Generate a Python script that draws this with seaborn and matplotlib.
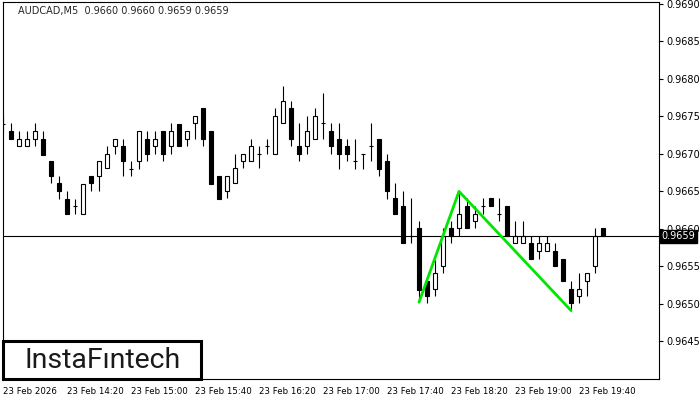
import numpy as np
import pandas as pd
import matplotlib
matplotlib.use('Agg')
import matplotlib.pyplot as plt
import matplotlib.transforms as mtransforms
from matplotlib.patches import Rectangle
import seaborn as sns

# AUDCAD M5, 23 Feb 2026 13:40 .. 19:55 (76 bars)
opens = [0.96740, 0.96730, 0.96710, 0.96710, 0.96720, 0.96720, 0.96690, 0.96661, 0.96640, 0.96630,
         0.96620, 0.96670, 0.96670, 0.96681, 0.96710, 0.96710, 0.96680, 0.96690, 0.96720, 0.96710,
         0.96730, 0.96710, 0.96740, 0.96720, 0.96741, 0.96761, 0.96730, 0.96670, 0.96650, 0.96661,
         0.96690, 0.96690, 0.96700, 0.96710, 0.96700, 0.96741, 0.96761, 0.96711, 0.96711, 0.96720,
         0.96741, 0.96730, 0.96720, 0.96710, 0.96690, 0.96700, 0.96710, 0.96720, 0.96691, 0.96641,
         0.96631, 0.96591, 0.96601, 0.96530, 0.96520, 0.96551, 0.96601, 0.96601, 0.96631, 0.96611,
         0.96630, 0.96641, 0.96620, 0.96631, 0.96581, 0.96581, 0.96581, 0.96570, 0.96570, 0.96570,
         0.96560, 0.96520, 0.96510, 0.96530, 0.96551, 0.96601]
highs = [0.96752, 0.96741, 0.96730, 0.96730, 0.96741, 0.96730, 0.96690, 0.96671, 0.96651, 0.96640,
         0.96660, 0.96670, 0.96691, 0.96711, 0.96720, 0.96720, 0.96690, 0.96730, 0.96730, 0.96730,
         0.96730, 0.96741, 0.96740, 0.96730, 0.96751, 0.96761, 0.96730, 0.96670, 0.96670, 0.96700,
         0.96700, 0.96720, 0.96711, 0.96720, 0.96761, 0.96791, 0.96771, 0.96741, 0.96751, 0.96761,
         0.96781, 0.96741, 0.96741, 0.96720, 0.96720, 0.96700, 0.96741, 0.96720, 0.96700, 0.96661,
         0.96651, 0.96641, 0.96611, 0.96530, 0.96559, 0.96601, 0.96611, 0.96650, 0.96641, 0.96631,
         0.96641, 0.96641, 0.96641, 0.96631, 0.96611, 0.96611, 0.96590, 0.96590, 0.96590, 0.96581,
         0.96560, 0.96530, 0.96541, 0.96541, 0.96601, 0.96601]
lows = [0.96730, 0.96720, 0.96710, 0.96710, 0.96710, 0.96699, 0.96661, 0.96640, 0.96620, 0.96620,
        0.96620, 0.96650, 0.96650, 0.96681, 0.96700, 0.96670, 0.96670, 0.96680, 0.96690, 0.96700,
        0.96690, 0.96700, 0.96710, 0.96710, 0.96720, 0.96710, 0.96660, 0.96640, 0.96641, 0.96661,
        0.96681, 0.96690, 0.96681, 0.96700, 0.96700, 0.96741, 0.96710, 0.96690, 0.96700, 0.96720,
        0.96720, 0.96700, 0.96680, 0.96690, 0.96680, 0.96680, 0.96690, 0.96670, 0.96640, 0.96620,
        0.96581, 0.96581, 0.96502, 0.96501, 0.96510, 0.96541, 0.96581, 0.96590, 0.96601, 0.96601,
        0.96620, 0.96630, 0.96611, 0.96590, 0.96581, 0.96581, 0.96560, 0.96560, 0.96570, 0.96551,
        0.96530, 0.96491, 0.96501, 0.96510, 0.96541, 0.96590]
closes = [0.96740, 0.96720, 0.96720, 0.96720, 0.96730, 0.96699, 0.96670, 0.96650, 0.96620, 0.96630,
          0.96660, 0.96661, 0.96691, 0.96700, 0.96720, 0.96690, 0.96680, 0.96730, 0.96700, 0.96720,
          0.96700, 0.96730, 0.96710, 0.96730, 0.96751, 0.96720, 0.96660, 0.96640, 0.96670, 0.96681,
          0.96700, 0.96711, 0.96700, 0.96710, 0.96751, 0.96771, 0.96720, 0.96700, 0.96730, 0.96751,
          0.96741, 0.96710, 0.96700, 0.96700, 0.96690, 0.96700, 0.96710, 0.96680, 0.96650, 0.96620,
          0.96581, 0.96591, 0.96519, 0.96510, 0.96541, 0.96590, 0.96590, 0.96620, 0.96601, 0.96620,
          0.96630, 0.96631, 0.96620, 0.96590, 0.96590, 0.96590, 0.96560, 0.96581, 0.96581, 0.96551,
          0.96530, 0.96501, 0.96520, 0.96541, 0.96590, 0.96590]

time_labels = ['23 Feb 2026', '23 Feb 14:20', '23 Feb 15:00', '23 Feb 15:40', '23 Feb 16:20',
               '23 Feb 17:00', '23 Feb 17:40', '23 Feb 18:20', '23 Feb 19:00', '23 Feb 19:40']
price_ticks = [0.9645, 0.9650, 0.9655, 0.9660, 0.9665, 0.9670, 0.9675, 0.9680, 0.9685, 0.9690]
last_price = 0.9659

# double bottom pattern drawn in green
pattern_bars = [52, 57, 71]
pattern_prices = [0.96502, 0.96650, 0.96491]

sns.set_style('white')
plt.rcParams['font.family'] = ['DejaVu Sans']

df = pd.DataFrame({'open': opens, 'high': highs, 'low': lows, 'close': closes})
df['bar'] = np.arange(len(df))
up = df[df.close > df.open]
down = df[df.close < df.open]
flat = df[df.close == df.open]

fig = plt.figure(figsize=(7, 4), dpi=100)
ax = fig.add_axes([3 / 700, 21 / 400, 656 / 700, 377 / 400])

body_w = 0.55
ax.vlines(df.bar, df.low, df.high, color='black', lw=0.8, zorder=2)
ax.bar(up.bar, up.close - up.open, bottom=up.open, width=body_w,
       facecolor='white', edgecolor='black', lw=0.8, zorder=3)
ax.bar(down.bar, down.open - down.close, bottom=down.close, width=body_w,
       facecolor='black', edgecolor='black', lw=0.8, zorder=3)
ax.hlines(flat.close, flat.bar - body_w / 2, flat.bar + body_w / 2, color='black', lw=0.8, zorder=3)

ax.axhline(last_price, color='black', lw=0.8, zorder=4)
sns.lineplot(x=pattern_bars, y=pattern_prices, color='#00e600', lw=2, ax=ax, zorder=5)

ax.set_xlim(0, 82)
ax.set_ylim(0.963996, 0.969027)

ax.yaxis.tick_right()
ax.set_yticks(price_ticks)
ax.set_yticklabels([f'{p:.4f}' for p in price_ticks])
ax.set_xticks(np.arange(0, 80, 8))
ax.set_xticklabels(time_labels, ha='left')
ax.tick_params(axis='y', direction='out', length=3, width=0.8, labelsize=7, pad=2, colors='black')
ax.tick_params(axis='x', direction='out', length=4, width=0.8, labelsize=6.2, pad=2, colors='black')
ax.set_xlabel('')
ax.set_ylabel('')
for s in ax.spines.values():
    s.set_color('black')
    s.set_linewidth(0.8)

# current price label
trans = mtransforms.blended_transform_factory(ax.transAxes, ax.transData)
ax.text(1.004, last_price, '0.9659', transform=trans, fontsize=7, color='white', va='center', ha='left',
        bbox=dict(boxstyle='square,pad=0.15', facecolor='black', edgecolor='black'), zorder=10, clip_on=False)

ax.text(0.023, 0.99, 'AUDCAD,M5  0.9660 0.9660 0.9659 0.9659', transform=ax.transAxes,
        fontsize=7, va='top', ha='left')

# logo
ax.add_patch(Rectangle((0, 0), 198 / 656, 38 / 377, transform=ax.transAxes,
                       facecolor='white', edgecolor='black', lw=2.2, zorder=6, clip_on=False))
ax.text(100 / 656, 18 / 377, 'InstaFıntech', transform=ax.transAxes, fontsize=20.5,
        family='Roboto', ha='center', va='center', color='#1a1a1a', zorder=7)

fig.savefig('out.png', dpi=100, facecolor='white')
